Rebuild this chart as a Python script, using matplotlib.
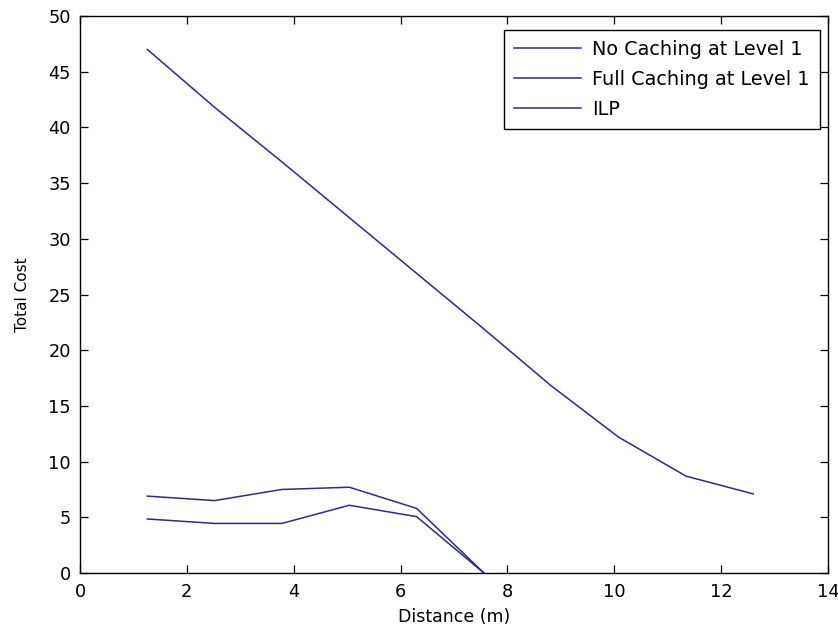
import matplotlib
matplotlib.use("Agg")
import matplotlib.pyplot as plt

distance = [1.26, 2.52, 3.78, 5.04, 6.30, 7.56, 8.82, 10.08, 11.34, 12.60]
no_caching = [47.0, 41.8, 36.9, 31.9, 26.9, 21.9, 16.8, 12.2, 8.7, 7.1]
distance_low = [1.26, 2.52, 3.78, 5.04, 6.30, 7.56]
full_caching = [6.9, 6.5, 7.5, 7.7, 5.8, 0.0]
ilp = [4.85, 4.45, 4.45, 6.08, 5.06, 0.0]
series_labels = ["No Caching at Level 1", "Full Caching at Level 1", "ILP"]
xticks = [0, 2, 4, 6, 8, 10, 12, 14]
yticks = [0, 5, 10, 15, 20, 25, 30, 35, 40, 45, 50]

plt.rcParams['font.family'] = ['DejaVu Sans']

fig = plt.figure(figsize=(8.38, 6.33), dpi=100)
ax = fig.add_axes([80/838, 60/633, 748/838, 557/633])

color = '#2c2c80'
ax.plot(distance, no_caching, color=color, lw=1.1, label=series_labels[0])
ax.plot(distance_low, full_caching, color=color, lw=1.1, label=series_labels[1])
ax.plot(distance_low, ilp, color=color, lw=1.1, label=series_labels[2])

ax.set_xlim(0, 14)
ax.set_ylim(0, 50)
ax.set_xticks(xticks)
ax.set_yticks(yticks)
ax.tick_params(direction='in', top=True, right=True, length=5.5, width=0.9,
               labelsize=12.8, colors='black')
ax.tick_params(axis='x', pad=7)
ax.tick_params(axis='y', pad=6.5)
ax.set_xlabel("Distance (m)", fontsize=12.5, labelpad=5)
ax.set_ylabel("Total Cost", fontsize=11, labelpad=13)
for s in ax.spines.values():
    s.set_linewidth(1.0)

leg = ax.legend(loc='upper right', bbox_to_anchor=((820-80)/748, (573-30)/557),
                borderaxespad=0, fancybox=False, framealpha=1, edgecolor='black',
                handlelength=3.45, labelspacing=0.56, handletextpad=0.6,
                fontsize=13.9, borderpad=0.53)
leg.get_frame().set_linewidth(1.0)

fig.savefig("out.png", dpi=100)
